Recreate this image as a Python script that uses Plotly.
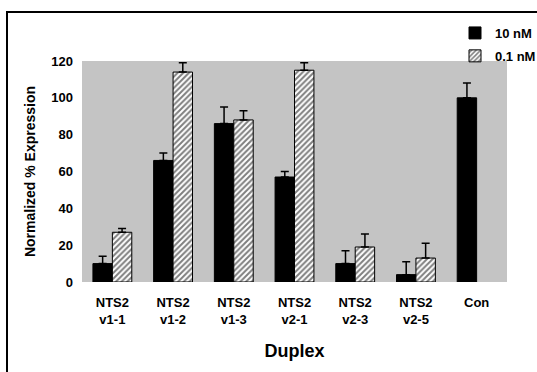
import plotly.graph_objects as go

# Duplex knockdown data (normalized % expression)
duplexes = ["NTS2<br>v1-1", "NTS2<br>v1-2", "NTS2<br>v1-3", "NTS2<br>v2-1",
            "NTS2<br>v2-3", "NTS2<br>v2-5", "Con"]
expr_10nM = [10, 66, 86, 57, 10, 4, 100]
err_10nM = [4, 4, 9, 3, 7, 7, 8]
expr_01nM = [27, 114, 88, 115, 19, 13, None]
err_01nM = [2, 5, 5, 4, 7, 8, None]
y_ticks = [0, 20, 40, 60, 80, 100, 120]

FONT = "Arial, Liberation Sans, sans-serif"
W, H = 537, 372
ML, MR, MT, MB = 82, 30, 61, 90

fig = go.Figure()
fig.add_trace(go.Bar(
    x=duplexes, y=expr_10nM, name="<b>10 nM</b>", legendgroup="a",
    marker=dict(color="black", line=dict(color="black", width=1)),
    error_y=dict(type="data", symmetric=False, array=err_10nM,
                 arrayminus=[0] * len(err_10nM), color="black",
                 thickness=1.5, width=4),
))
fig.add_trace(go.Bar(
    x=duplexes, y=expr_01nM, name="<b>0.1 nM</b>", legendgroup="b",
    marker=dict(color="white", line=dict(color="black", width=1),
                pattern=dict(shape="/", fgcolor="black", bgcolor="white",
                             size=4, solidity=0.5)),
    error_y=dict(type="data", symmetric=False, array=err_01nM,
                 arrayminus=[0] * len(err_01nM), color="black",
                 thickness=1.5, width=4),
))

# Pixel -> paper fraction helpers for the outer frame
def fx(px):
    return (px - ML) / (W - ML - MR)
def fy(py):
    return (H - MB - py) / (H - MT - MB)

# Outer frame: only its top and left edges fall inside the page
fig.add_shape(type="path", xref="paper", yref="paper",
              path=(f"M {fx(7)},{fy(H + 20)} L {fx(7)},{fy(12)} "
                    f"L {fx(W + 20)},{fy(12)}"),
              line=dict(color="black", width=2))

fig.update_layout(
    width=W, height=H,
    margin=dict(l=ML, r=MR, t=MT, b=MB, autoexpand=False),
    paper_bgcolor="white",
    plot_bgcolor="#c4c4c4",
    barmode="group", bargap=0.36, bargroupgap=0.0,
    font=dict(family=FONT, size=12, color="black"),
    showlegend=True,
    legend=dict(xref="container", yref="container",
                x=455 / W, y=1 - 18 / H, xanchor="left", yanchor="top",
                bgcolor="rgba(255,255,255,0)", font=dict(size=13),
                itemwidth=30, tracegroupgap=3),
    xaxis=dict(
        title=dict(text="<b>Duplex</b>", font=dict(size=18), standoff=18),
        tickfont=dict(size=13), showgrid=False, showline=False,
        ticks="", tickprefix="<b>", ticksuffix="</b>",
        ticklabelstandoff=11,
    ),
    yaxis=dict(
        title=dict(text="<b>Normalized % Expression</b>", font=dict(size=14),
                   standoff=12),
        range=[0, 120], tickvals=y_ticks,
        ticktext=[f"<b>{v}</b>" for v in y_ticks],
        tickfont=dict(size=13), showgrid=False, showline=False,
        zeroline=False, ticks="", ticklabelstandoff=8,
    ),
)

fig.write_html("out.html")
